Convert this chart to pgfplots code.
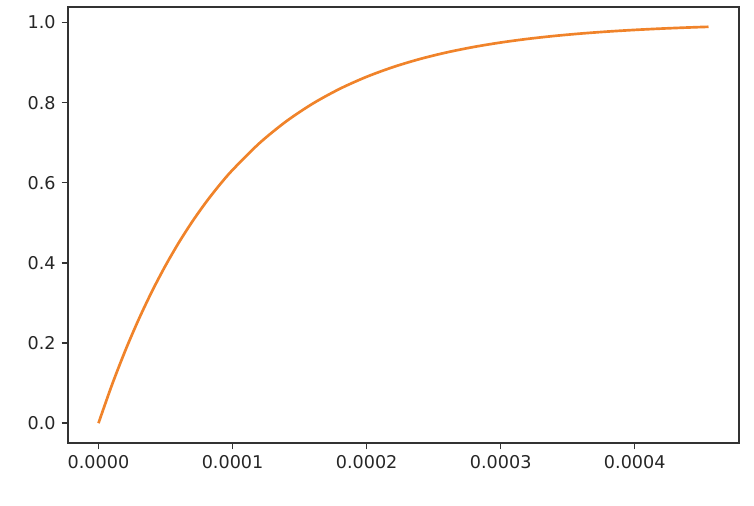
\documentclass[border=0pt]{standalone}
\usepackage{pgfplots}
\pgfplotsset{compat=1.18}
\usepackage{fontspec}
\setmainfont{DejaVu Sans}
\definecolor{taborange}{HTML}{F0832A}
\definecolor{spine}{HTML}{333333}
\begin{document}
\begin{tikzpicture}
\useasboundingbox (-51pt,-47.25pt) rectangle (514.5pt,332.25pt);
\begin{axis}[
  at={(0,0)}, anchor=south west,
  scale only axis, width=503.25pt, height=327pt,
  xmin=-0.00002275, xmax=0.00047775,
  ymin=-0.0495, ymax=1.0389,
  xtick={0,0.0001,0.0002,0.0003,0.0004},
  ytick={0,0.2,0.4,0.6,0.8,1.0},
  scaled x ticks=false,
  xticklabel style={/pgf/number format/.cd, fixed, fixed zerofill, precision=4},
  yticklabel style={/pgf/number format/.cd, fixed, fixed zerofill, precision=1},
  /pgf/number format/assume math mode=true,
  tick label style={font=\fontsize{13.2}{16}\selectfont, text=black!85},
  axis line style={spine, line width=1pt},
  tick style={spine, line width=1pt},
  major tick length=4.7pt,
  tick align=outside,
  xtick pos=bottom, ytick pos=left,
  xticklabel shift=1pt, yticklabel shift=1pt,
]
\addplot[color=taborange, line width=2pt, smooth] coordinates {
(0,0) (0.00001,0.09516) (0.00002,0.18127) (0.00003,0.25918) (0.00004,0.32968)
(0.00005,0.39347) (0.00006,0.45119) (0.00007,0.50341) (0.00008,0.55067)
(0.00009,0.59343) (0.00010,0.63212) (0.00012,0.69881) (0.00014,0.75340)
(0.00016,0.79810) (0.00018,0.83470) (0.00020,0.86466) (0.00022,0.88920)
(0.00024,0.90928) (0.00026,0.92573) (0.00028,0.93919) (0.00030,0.95021)
(0.00032,0.95924) (0.00034,0.96663) (0.00036,0.97268) (0.00038,0.97763)
(0.00040,0.98168) (0.00042,0.98500) (0.00044,0.98772) (0.000455,0.98943)
};
\end{axis}
\end{tikzpicture}
\end{document}
